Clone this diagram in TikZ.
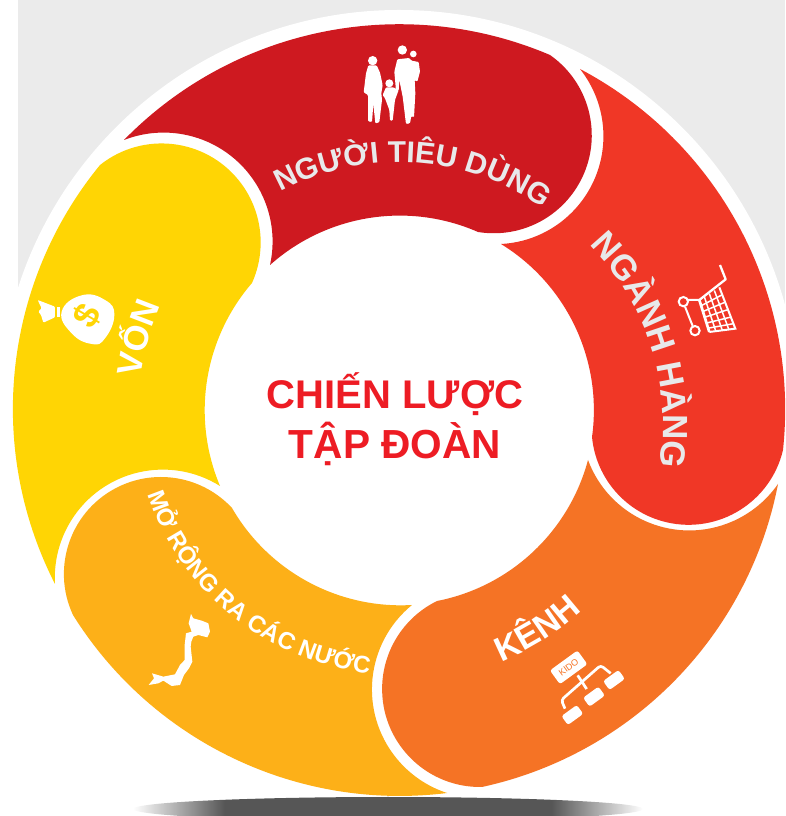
\documentclass[tikz,border=0pt]{standalone}
\usepackage{fontspec}
\setmainfont{Liberation Sans}
\usetikzlibrary{svg.path,decorations.text,calc}
\definecolor{bgGrey}{HTML}{EBEBEB}
\definecolor{segRed}{HTML}{CE1920}
\definecolor{segTomato}{HTML}{F03726}
\definecolor{segOrange}{HTML}{F57325}
\definecolor{segAmber}{HTML}{FDB018}
\definecolor{segYellow}{HTML}{FFD504}
\definecolor{titleRed}{HTML}{ED1C24}
\definecolor{softWhite}{HTML}{E8E9EA}
\definecolor{shGrey}{HTML}{565656}
\pgfdeclarehorizontalshading{shadowfade}{100bp}{color(0bp)=(white);color(25bp)=(white);color(34bp)=(shGrey);color(66bp)=(shGrey);color(75bp)=(white);color(100bp)=(white)}
\newcommand{\lblTop}{\fontsize{30}{30}\selectfont\bfseries}
\newcommand{\lblNH}{\fontsize{35}{35}\selectfont\bfseries}
\newcommand{\lblVon}{\fontsize{34.5}{34.5}\selectfont\bfseries}
\newcommand{\lblMo}{\fontsize{24}{24}\selectfont\bfseries}
\newcommand{\lblKenh}{\fontsize{34}{34}\selectfont\bfseries}
\tikzset{
  px/.style={shift={(0,816)},yscale=-1},
  arcText/.style={decorate,decoration={text along path,text align=center,text={#1}}},
  kbox/.style={fill=white,draw=none,rounded corners=2.5pt,rotate=36,inner sep=0pt},
  kline/.style={draw=white,line width=2.7pt,rounded corners=3pt},
  cartline/.style={draw=white,line width=1.5pt}
}
\begin{document}
\begin{tikzpicture}[x=1pt,y=1pt]
\useasboundingbox (0,0) rectangle (785,816);
\begin{scope}
\clip (0,0) rectangle (785,816);
\fill[bgGrey] (18,816) rectangle (785,490);
\fill[white] (399,406) circle[radius=400];
\shade[shading=shadowfade] (388,7) ellipse[x radius=255,y radius=12];
\end{scope}
\begin{scope}[px]
\path[fill=segRed] svg {M 124 140 A 385 385 0 0 1 550 55 A 98 98 0 0 1 478 232 A 195 195 0 0 0 270 265 A 109 109 0 0 0 124 140 Z};
\path[fill=segTomato] svg {M 580 69 A 385 385 0 0 1 783 450 A 97 97 0 0 1 592 437 A 195 195 0 0 0 501 244 A 108 108 0 0 0 580 69 Z};
\path[fill=segOrange] svg {M 778 484 A 385 385 0 0 1 482 787 A 98 98 0 0 1 437 601 A 195 195 0 0 0 588 460 A 108 108 0 0 0 778 484 Z};
\path[fill=segAmber] svg {M 447 793 A 385 385 0 0 1 73 615 A 97 97 0 0 1 232 508 A 195 195 0 0 0 412 605 A 109 109 0 0 0 447 793 Z};
\path[fill=segYellow] svg {M 55 584 A 385 385 0 0 1 100 165 A 99 99 0 0 1 252 283 A 195 195 0 0 0 220 486 A 108 108 0 0 0 55 584 Z};
% family
\begin{scope}[shift={(340,30)},scale=0.3333]
\fill[white] (98,92) circle[radius=14];
\fill[white,rounded corners=1pt] (85,106)--(110,106)--(120,128)--(128,165)--(124,190)--(126,210)--(118,277)--(106,280)--(100,222)--(96,276)--(84,274)--(84,195)--(71,187)--(78,130)--cycle;
\fill[white] (187,60) circle[radius=14];
\fill[white,rounded corners=1pt] (172,88)--(208,84)--(214,92)--(236,96)--(240,125)--(232,155)--(224,150)--(226,190)--(222,262)--(214,258)--(210,280)--(198,282)--(188,200)--(178,150)--(176,182)--(168,182)--(163,125)--cycle;
\fill[white] (220,72) circle[radius=10];
\fill[white] (148,160) circle[radius=12];
\fill[white,rounded corners=1pt] (138,172)--(160,172)--(176,180)--(165,210)--(158,272)--(150,272)--(148,240)--(135,205)--(128,195)--cycle;
\end{scope}
% cart
\begin{scope}[shift={(660,250)},scale=0.3333]
\coordinate (ca) at (118,150);\coordinate (cb) at (178,112);\coordinate (cc) at (226,236);\coordinate (cd) at (148,246);
\draw[draw=white,line width=2.3pt,line join=round] (180,45)--(197,88)--(ca);
\draw[draw=white,line width=2.7pt] (ca)--(cd);
\draw[draw=white,line width=2pt] (cd)--(cc)--(cb);
\draw[draw=white,line width=2pt] (70,155) circle[radius=14] (105,242) circle[radius=14];
\draw[draw=white,line width=2pt] (84,150)--(ca) (75,170)--(98,228);
\foreach \t in {0.25,0.5,0.75}{
  \draw[cartline] ($(ca)!\t!(cb)$)--($(cd)!\t!(cc)$);
}
\foreach \t in {0.18,0.36,0.54,0.72,0.88}{
  \draw[cartline] ($(ca)!\t!(cd)$)--($(cb)!\t!(cc)$);
}
\end{scope}
% channel chart
\begin{scope}[shift={(530,640)},scale=0.3333]
\draw[kline] (105,206)--(94,180)--(212,76)--(242,100);
\draw[kline,rounded corners=0pt] (143,106)--(170,147);
\node[kbox,minimum width=34pt,minimum height=17pt,text=segOrange] (kidoBox) at (116,82) {\fontsize{9}{9}\selectfont KIDO};
\node[kbox,minimum width=19pt,minimum height=11pt] (kidoA) at (252,120) {};
\node[kbox,minimum width=19pt,minimum height=11pt] (kidoB) at (192,170) {};
\node[kbox,minimum width=19pt,minimum height=11pt] (kidoC) at (127,225) {};
\end{scope}
% map
\begin{scope}[shift={(130,600)},scale=0.3333]
\fill[white] (183,42)--(190,55)--(215,62)--(235,70)--(240,95)--(232,112)--(205,105)--(190,110)--(184,125)--(182,140)--(187,185)--(177,205)--(162,225)--(150,255)--(125,258)--(100,242)--(85,250)--(56,255)--(72,235)--(66,220)--(100,230)--(135,223)--(150,195)--(164,180)--(164,135)--(168,100)--(185,95)--(176,70)--cycle;
\end{scope}
% money bag
\begin{scope}[shift={(25,280)},scale=0.3333]
\fill[white,rounded corners=1pt] (38,60)--(90,80)--(90,112)--(55,128)--(48,105)--(40,95)--(50,85)--cycle;
\fill[white] (96,80) rectangle (105,112);
\fill[white] plot[smooth cycle,tension=0.8] coordinates {(110,95) (170,46) (240,60) (268,105) (240,175) (200,192) (140,160)};
\node[text=segYellow,rotate=60,font=\fontsize{36}{36}\selectfont\bfseries] (dollar) at (185,108) {\$};
\end{scope}
\end{scope}
% curved labels
\path[arcText={|\color{softWhite}\lblTop|NGƯỜI TIÊU DÙNG}] (399,406) ++(136.5:248) arc[start angle=136.5,end angle=36.5,radius=248];
\path[arcText={|\color{softWhite}\lblNH|NGÀNH HÀNG}] (405,391) ++(57.5:258) arc[start angle=57.5,end angle=-22.5,radius=258];
\path[arcText={|\color{white}\lblVon|VỐN}] (399,406) ++(189.5:260) arc[start angle=189.5,end angle=139.5,radius=260];
\path[arcText={|\color{white}\lblMo|MỞ RỘNG RA CÁC NƯỚC}] (399,406) ++(186:265) arc[start angle=186,end angle=276,radius=265];
\path[arcText={|\color{white}\lblKenh|KÊNH}] (399,406) ++(282.3:272) arc[start angle=282.3,end angle=322.3,radius=272];
% title
\node[anchor=base,text=titleRed,font=\fontsize{40}{40}\selectfont\bfseries,inner sep=0pt] (titleA) at (395,407) {CHIẾN LƯỢC};
\node[anchor=base,text=titleRed,font=\fontsize{40.6}{40.6}\selectfont\bfseries,inner sep=0pt] (titleB) at (395,357) {TẬP ĐOÀN};
\end{tikzpicture}
\end{document}
